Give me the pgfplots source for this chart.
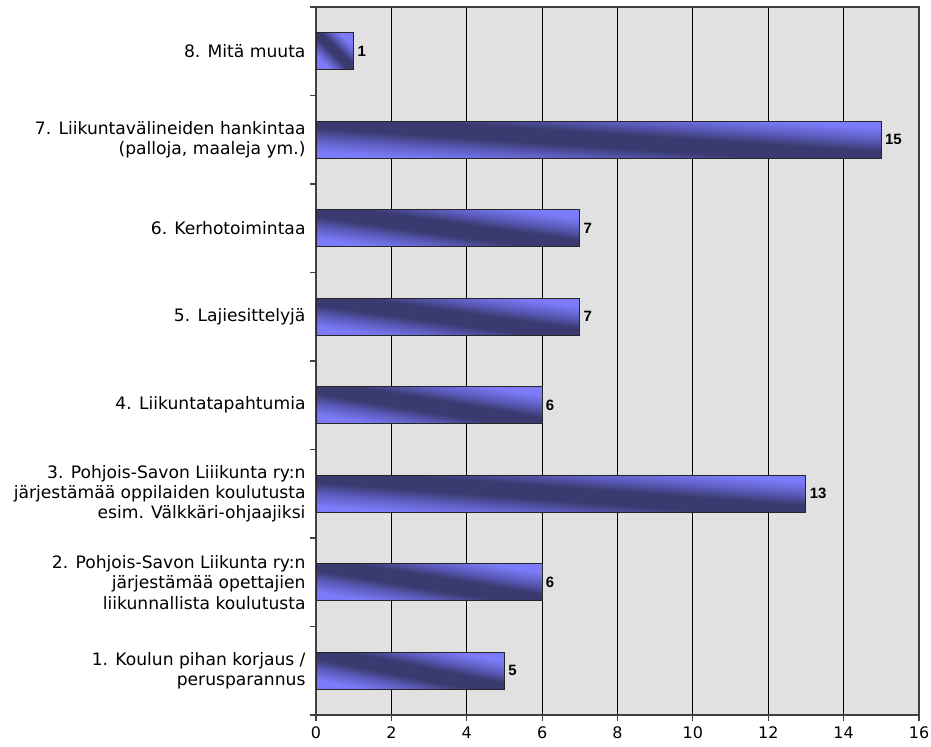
\documentclass[border=0pt]{standalone}
\usepackage{pgfplots}
\pgfplotsset{compat=1.18}
\usepackage{fontspec}
\setmainfont{DejaVu Sans}
\newfontfamily\lab{Liberation Sans}
\definecolor{bg}{RGB}{225,225,225}
\definecolor{barlight}{RGB}{124,124,250}
\definecolor{barmid}{RGB}{92,92,190}
\definecolor{bardark}{RGB}{58,58,112}
\definecolor{frame}{RGB}{64,64,64}
\pgfdeclareverticalshading{barsh}{100bp}{color(0bp)=(barlight); color(28bp)=(barlight); color(37bp)=(barmid); color(45bp)=(bardark); color(55bp)=(bardark); color(63bp)=(barmid); color(72bp)=(barlight); color(100bp)=(barlight)}
\pgfplotsset{shbar/.style={draw=black!85, line width=1bp, bar shift=0pt,
  shading=barsh, shading angle=#1}}
\begin{document}
\begin{tikzpicture}
\path[use as bounding box] (0,0) rectangle (931bp,747bp);
\begin{axis}[
  at={(316bp,32bp)}, anchor=south west,
  scale only axis, width=603bp, height=708bp,
  xmin=0, xmax=16, ymin=0.5, ymax=8.5,
  /pgf/number format/assume math mode=true,
  axis background/.style={fill=bg},
  axis line style={draw=frame, line width=1.6bp},
  xtick={0,2,...,16},
  xmajorgrids, grid style={draw=black, line width=1bp},
  xtick pos=bottom, ytick pos=left,
  tick align=outside,
  xtick style={draw=frame, line width=1.2bp},
  x tick label style={font=\fontsize{16}{19}\selectfont, yshift=-2bp},
  major tick length=6bp,
  ytick={1,...,8},
  y tick style={draw=none},
  yticklabels={
    {1. Koulun pihan korjaus /\\perusparannus},
    {2. Pohjois-Savon Liikunta ry:n\\järjestämää opettajien\\liikunnallista koulutusta},
    {3. Pohjois-Savon Liiikunta ry:n\\järjestämää oppilaiden koulutusta\\esim. Välkkäri-ohjaajiksi},
    {4. Liikuntatapahtumia},
    {5. Lajiesittelyjä},
    {6. Kerhotoimintaa},
    {7. Liikuntavälineiden hankintaa\\(palloja, maaleja ym.)},
    {8. Mitä muuta}},
  y tick label style={font=\fontsize{17.2}{20.5}\selectfont, align=right, xshift=-1bp},
  extra y ticks={0.5,1.5,...,8.5},
  extra y tick labels={},
  extra y tick style={grid=none, y tick style={draw=frame, line width=1.2bp}},
  xbar, bar width=0.42,
  nodes near coords,
  nodes near coords style={font=\lab\bfseries\fontsize{15}{18}\selectfont, anchor=west, xshift=0bp},
]
\addplot[shbar=-11.2] coordinates {(5,1)};
\addplot[shbar=-9.3] coordinates {(6,2)};
\addplot[shbar=-4.3] coordinates {(13,3)};
\addplot[shbar=-9.3] coordinates {(6,4)};
\addplot[shbar=-8] coordinates {(7,5)};
\addplot[shbar=-8] coordinates {(7,6)};
\addplot[shbar=-3.8] coordinates {(15,7)};
\addplot[shbar=-44.5] coordinates {(1,8)};
\end{axis}
\end{tikzpicture}
\end{document}
